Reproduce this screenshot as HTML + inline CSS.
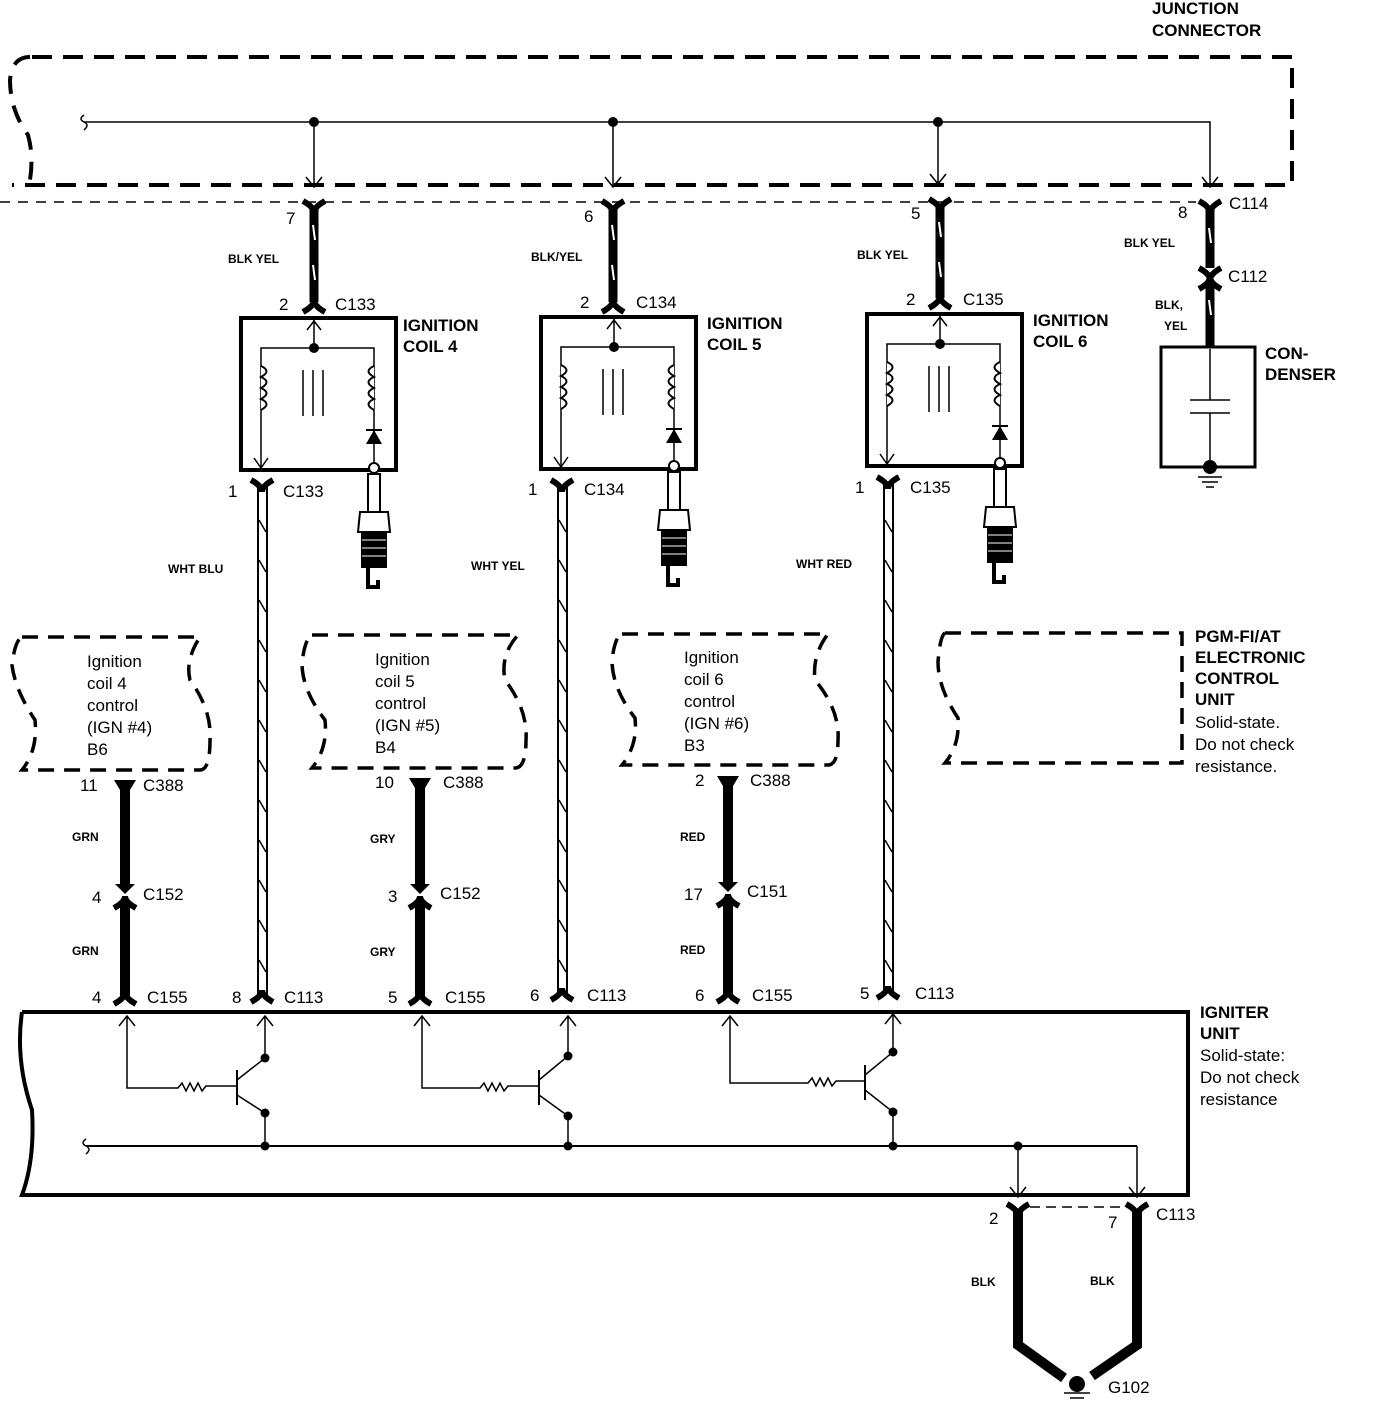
<!DOCTYPE html>
<html><head><meta charset="utf-8"><style>
html,body{margin:0;padding:0;background:#fff}
svg{display:block}
text{font-family:"Liberation Sans",sans-serif;fill:#000}
.b{font-weight:bold;font-size:17px}
.s{font-size:12px;font-weight:bold}
.n{font-size:17px}
</style></head><body>
<svg width="1376" height="1404" viewBox="0 0 1376 1404" xmlns="http://www.w3.org/2000/svg">
<defs>
<g id="coil" fill="none" stroke="#000">
  <rect x="0" y="0" width="155" height="152" stroke-width="4"/>
  <line x1="73" y1="2" x2="73" y2="30" stroke-width="1.5"/>
  <path d="M66 12 L73 3 L80 12" stroke-width="1.5"/>
  <circle cx="73" cy="30" r="4.5" fill="#000"/>
  <path d="M20 150 V30 H133 V150" stroke-width="1.5"/>
  <path d="M13 140 L20 150 L27 140" stroke-width="1.5"/>
  <path d="M20 48 q11 5 0 11 q11 5 0 11 q11 5 0 11 q11 5 0 11" stroke-width="2" fill="#fff"/>
  <path d="M133 48 q-11 5 0 11 q-11 5 0 11 q-11 5 0 11 q-11 5 0 11" stroke-width="2" fill="#fff"/>
  <line x1="62" y1="52" x2="62" y2="98" stroke-width="1.5"/>
  <line x1="72" y1="52" x2="72" y2="98" stroke-width="1.5"/>
  <line x1="82" y1="52" x2="82" y2="98" stroke-width="1.5"/>
  <path d="M125 126 L141 126 L133 112 Z" fill="#000" stroke="none"/>
  <line x1="125" y1="112" x2="141" y2="112" stroke-width="2"/>
</g>
<g id="plug" stroke="#000" fill="#fff" stroke-width="2">
  <circle cx="0" cy="6" r="5"/>
  <rect x="-6" y="12" width="12" height="38"/>
  <path d="M-14 50 H14 L16 70 H-16 Z"/>
  <rect x="-12" y="70" width="24" height="35" fill="#000"/>
  <line x1="-12" y1="78" x2="12" y2="78" stroke="#fff" stroke-width="1"/>
  <line x1="-12" y1="86" x2="12" y2="86" stroke="#fff" stroke-width="1"/>
  <line x1="-12" y1="94" x2="12" y2="94" stroke="#fff" stroke-width="1"/>
  <path d="M-6 105 V125 H4 V118" fill="none" stroke-width="4"/>
</g>
<g id="fork" fill="none" stroke="#000" stroke-width="6">
  <path d="M-11 -6 Q0 0 0 6 Q0 0 11 -6"/>
</g>
<g id="forkd" fill="none" stroke="#000" stroke-width="6">
  <path d="M-11 6 Q0 0 0 -6 Q0 0 11 6"/>
</g>
</defs>

<!-- Junction connector -->
<text class="b" x="1152" y="14">JUNCTION</text>
<text class="b" x="1152" y="36">CONNECTOR</text>
<path d="M30 57 Q12 57 10 80 Q10 110 28 135 Q35 160 28 190" fill="none" stroke="#000" stroke-width="4" stroke-dasharray="18 12"/>
<path d="M32 57 H1292 V185 H12" fill="none" stroke="#000" stroke-width="4" stroke-dasharray="20 11"/>
<line x1="0" y1="202" x2="1196" y2="202" stroke="#000" stroke-width="1.5" stroke-dasharray="10 8"/>
<path d="M84 115 q-6 4 0 7 q6 3 0 8" fill="none" stroke="#000" stroke-width="1.5"/>
<path d="M84 122 H1210 V186" fill="none" stroke="#000" stroke-width="1.5"/>
<g fill="none" stroke="#000" stroke-width="1.5">
<path d="M314 122 V186 M306 177 L314 187 L322 177"/>
<path d="M613 122 V186 M605 177 L613 187 L621 177"/>
<path d="M938 122 V183 M930 174 L938 184 L946 174"/>
<path d="M1202 177 L1210 187 L1218 177"/>
</g>
<circle cx="314" cy="122" r="5"/><circle cx="613" cy="122" r="5"/><circle cx="938" cy="122" r="5"/>

<!-- BLK/YEL wires -->
<g stroke="#000" stroke-width="9">
<line x1="314" y1="208" x2="314" y2="302"/>
<line x1="613" y1="208" x2="613" y2="302"/>
<line x1="940" y1="206" x2="940" y2="298"/>
<line x1="1210" y1="208" x2="1210" y2="268"/>
<line x1="1210" y1="282" x2="1210" y2="347"/>
</g>
<g stroke="#fff" stroke-width="2">
<line x1="313" y1="225" x2="315" y2="240"/><line x1="313" y1="265" x2="315" y2="280"/>
<line x1="612" y1="225" x2="614" y2="240"/><line x1="612" y1="265" x2="614" y2="280"/>
<line x1="939" y1="222" x2="941" y2="237"/><line x1="939" y1="262" x2="941" y2="277"/>
<line x1="1209" y1="228" x2="1211" y2="243"/><line x1="1209" y1="300" x2="1211" y2="315"/>
</g>
<use href="#fork" x="314" y="207"/><use href="#forkd" x="314" y="306"/>
<use href="#fork" x="613" y="207"/><use href="#forkd" x="613" y="306"/>
<use href="#fork" x="940" y="205"/><use href="#forkd" x="940" y="302"/>
<use href="#fork" x="1210" y="207"/><use href="#fork" x="1210" y="274"/><use href="#forkd" x="1210" y="283"/>

<text class="n" x="286" y="224">7</text><text class="s" x="228" y="263">BLK YEL</text>
<text class="n" x="279" y="310">2</text><text class="n" x="335" y="310">C133</text>
<text class="n" x="584" y="222">6</text><text class="s" x="531" y="261">BLK/YEL</text>
<text class="n" x="580" y="308">2</text><text class="n" x="636" y="308">C134</text>
<text class="n" x="911" y="219">5</text><text class="s" x="857" y="259">BLK YEL</text>
<text class="n" x="906" y="305">2</text><text class="n" x="963" y="305">C135</text>
<text class="n" x="1178" y="218">8</text><text class="n" x="1229" y="209">C114</text>
<text class="s" x="1124" y="247">BLK YEL</text>
<text class="n" x="1228" y="282">C112</text>
<text class="s" x="1155" y="309">BLK,</text><text class="s" x="1164" y="330">YEL</text>

<!-- coils -->
<use href="#coil" x="241" y="318"/>
<use href="#coil" x="541" y="317"/>
<use href="#coil" x="867" y="314"/>
<use href="#plug" x="374" y="462"/>
<use href="#plug" x="674" y="460"/>
<use href="#plug" x="1000" y="457"/>
<text class="b" x="403" y="331">IGNITION</text><text class="b" x="403" y="352">COIL 4</text>
<text class="b" x="707" y="329">IGNITION</text><text class="b" x="707" y="350">COIL 5</text>
<text class="b" x="1033" y="326">IGNITION</text><text class="b" x="1033" y="347">COIL 6</text>

<!-- condenser -->
<rect x="1161" y="347" width="94" height="120" fill="none" stroke="#000" stroke-width="3"/>
<path d="M1210 349 V400 M1190 400 H1230 M1190 413 H1230 M1210 413 V465" stroke="#000" stroke-width="1.5" fill="none"/>
<circle cx="1210" cy="467" r="7"/>
<path d="M1198 477 H1222 M1202 482 H1218 M1206 487 H1214" stroke="#000" stroke-width="1.5"/>
<text class="b" x="1265" y="359">CON-</text><text class="b" x="1265" y="380">DENSER</text>

<!-- white striped wires -->
<g fill="none" stroke="#000" stroke-width="2">
<path d="M258 485 V998 M267 485 V998"/>
<path d="M558 485 V996 M567 485 V996"/>
<path d="M884 482 V994 M893 482 V994"/>
</g>
<g fill="none" stroke="#000" stroke-width="1.5">
<path d="M259 520 l7 12 M259 560 l7 12 M259 600 l7 12 M259 640 l7 12 M259 680 l7 12 M259 720 l7 12 M259 760 l7 12 M259 800 l7 12 M259 840 l7 12 M259 880 l7 12 M259 920 l7 12 M259 960 l7 12"/>
<path d="M559 520 l7 12 M559 560 l7 12 M559 600 l7 12 M559 640 l7 12 M559 680 l7 12 M559 720 l7 12 M559 760 l7 12 M559 800 l7 12 M559 840 l7 12 M559 880 l7 12 M559 920 l7 12 M559 960 l7 12"/>
<path d="M885 520 l7 12 M885 560 l7 12 M885 600 l7 12 M885 640 l7 12 M885 680 l7 12 M885 720 l7 12 M885 760 l7 12 M885 800 l7 12 M885 840 l7 12 M885 880 l7 12 M885 920 l7 12 M885 960 l7 12"/>
</g>
<use href="#fork" x="262" y="486"/><use href="#fork" x="562" y="486"/><use href="#fork" x="888" y="483"/>
<use href="#forkd" x="262" y="996"/><use href="#forkd" x="562" y="994"/><use href="#forkd" x="888" y="992"/>
<text class="n" x="228" y="497">1</text><text class="n" x="283" y="497">C133</text>
<text class="n" x="528" y="495">1</text><text class="n" x="584" y="495">C134</text>
<text class="n" x="855" y="493">1</text><text class="n" x="910" y="493">C135</text>
<text class="s" x="168" y="573">WHT BLU</text>
<text class="s" x="471" y="570">WHT YEL</text>
<text class="s" x="796" y="568">WHT RED</text>

<!-- ECU dashed boxes -->
<g fill="none" stroke="#000" stroke-width="3.5" stroke-dasharray="16 10">
<path d="M22 637 H200 Q185 660 190 680 Q212 710 210 740 Q210 770 200 770 H22 Q38 750 35 720 Q15 690 12 665 Q15 640 22 637"/>
<path d="M312 635 H518 Q500 655 505 680 Q528 710 526 740 Q526 768 515 768 H312 Q328 748 325 720 Q302 690 302 663 Q305 638 312 635"/>
<path d="M622 634 H828 Q812 655 815 680 Q840 710 838 740 Q838 765 828 765 H622 Q638 745 635 718 Q612 688 612 660 Q615 636 622 634"/>
<path d="M945 633 H1182 V763 H945 Q960 745 958 718 Q938 688 938 662 Q940 636 945 633"/>
</g>
<g class="n" style="font-size:17px">
<text x="87" y="667">Ignition</text><text x="87" y="689">coil 4</text><text x="87" y="711">control</text><text x="87" y="733">(IGN #4)</text><text x="87" y="755">B6</text>
<text x="375" y="665">Ignition</text><text x="375" y="687">coil 5</text><text x="375" y="709">control</text><text x="375" y="731">(IGN #5)</text><text x="375" y="753">B4</text>
<text x="684" y="663">Ignition</text><text x="684" y="685">coil 6</text><text x="684" y="707">control</text><text x="684" y="729">(IGN #6)</text><text x="684" y="751">B3</text>
</g>
<text class="b" x="1195" y="642">PGM-FI/AT</text><text class="b" x="1195" y="663">ELECTRONIC</text>
<text class="b" x="1195" y="684">CONTROL</text><text class="b" x="1195" y="705">UNIT</text>
<text class="n" x="1195" y="728">Solid-state.</text><text class="n" x="1195" y="750">Do not check</text><text class="n" x="1195" y="772">resistance.</text>

<!-- control wires -->
<g stroke="#000" stroke-width="10">
<line x1="125" y1="784" x2="125" y2="886"/><line x1="125" y1="900" x2="125" y2="996"/>
<line x1="420" y1="782" x2="420" y2="886"/><line x1="420" y1="900" x2="420" y2="996"/>
<line x1="728" y1="780" x2="728" y2="884"/><line x1="728" y1="898" x2="728" y2="994"/>
</g>
<g fill="#000">
<path d="M114 780 L136 780 L130 790 L120 790 Z"/><path d="M409 778 L431 778 L425 788 L415 788 Z"/><path d="M717 776 L739 776 L733 786 L723 786 Z"/>
<path d="M115 884 L135 884 L125 894 Z"/><path d="M410 884 L430 884 L420 894 Z"/><path d="M718 882 L738 882 L728 892 Z"/>
</g>
<use href="#forkd" x="125" y="902"/><use href="#forkd" x="420" y="902"/><use href="#forkd" x="728" y="900"/>
<use href="#forkd" x="125" y="998"/><use href="#forkd" x="420" y="998"/><use href="#forkd" x="728" y="996"/>
<text class="n" x="80" y="791">11</text><text class="n" x="143" y="791">C388</text>
<text class="n" x="375" y="788">10</text><text class="n" x="443" y="788">C388</text>
<text class="n" x="695" y="786">2</text><text class="n" x="750" y="786">C388</text>
<text class="s" x="72" y="841">GRN</text><text class="s" x="370" y="843">GRY</text><text class="s" x="680" y="841">RED</text>
<text class="n" x="92" y="903">4</text><text class="n" x="143" y="900">C152</text>
<text class="n" x="388" y="902">3</text><text class="n" x="440" y="899">C152</text>
<text class="n" x="684" y="900">17</text><text class="n" x="747" y="897">C151</text>
<text class="s" x="72" y="955">GRN</text><text class="s" x="370" y="956">GRY</text><text class="s" x="680" y="954">RED</text>
<text class="n" x="92" y="1003">4</text><text class="n" x="147" y="1003">C155</text>
<text class="n" x="232" y="1003">8</text><text class="n" x="284" y="1003">C113</text>
<text class="n" x="388" y="1003">5</text><text class="n" x="445" y="1003">C155</text>
<text class="n" x="530" y="1001">6</text><text class="n" x="587" y="1001">C113</text>
<text class="n" x="695" y="1001">6</text><text class="n" x="752" y="1001">C155</text>
<text class="n" x="860" y="999">5</text><text class="n" x="915" y="999">C113</text>

<!-- igniter unit -->
<path d="M22 1012 H1188 V1195 H22 Q35 1160 32 1110 Q15 1060 22 1012" fill="none" stroke="#000" stroke-width="4"/>
<text class="b" x="1200" y="1018">IGNITER</text><text class="b" x="1200" y="1039">UNIT</text>
<text class="n" x="1200" y="1061">Solid-state:</text><text class="n" x="1200" y="1083">Do not check</text><text class="n" x="1200" y="1105">resistance</text>
<g fill="none" stroke="#000" stroke-width="1.5">
<path d="M86 1139 q-6 4 0 7 q6 3 0 8"/>
<line x1="86" y1="1146" x2="1137" y2="1146" stroke-width="2"/>
<path d="M1018 1146 V1196 M1010 1187 L1018 1197 L1026 1187"/>
<path d="M1137 1146 V1196 M1129 1187 L1137 1197 L1145 1187"/>
<path d="M127 1016 V1088 H178 l4 -5 l4 8 l4 -8 l4 8 l4 -8 l4 8 l4 -5 H237"/>
<path d="M119 1026 L127 1016 L135 1026"/>
<path d="M237 1070 V1105" stroke-width="2"/>
<path d="M237 1080 L265 1058 V1016 M257 1026 L265 1016 L273 1026"/>
<path d="M237 1095 L265 1113 V1146"/>
<path d="M422 1016 V1088 H480 l4 -5 l4 8 l4 -8 l4 8 l4 -8 l4 8 l4 -5 H539"/>
<path d="M414 1026 L422 1016 L430 1026"/>
<path d="M539 1070 V1105" stroke-width="2"/>
<path d="M539 1080 L568 1056 V1016 M560 1026 L568 1016 L576 1026"/>
<path d="M539 1095 L568 1116 V1146"/>
<path d="M730 1016 V1083 H808 l4 -5 l4 8 l4 -8 l4 8 l4 -8 l4 8 l4 -5 H865"/>
<path d="M722 1026 L730 1016 L738 1026"/>
<path d="M865 1065 V1100" stroke-width="2"/>
<path d="M865 1075 L893 1052 V1014 M885 1024 L893 1014 L901 1024"/>
<path d="M865 1090 L893 1112 V1146"/>
</g>
<g fill="#000">
<circle cx="265" cy="1058" r="4.5"/><circle cx="265" cy="1113" r="4.5"/><circle cx="265" cy="1146" r="4.5"/>
<circle cx="568" cy="1056" r="4.5"/><circle cx="568" cy="1116" r="4.5"/><circle cx="568" cy="1146" r="4.5"/>
<circle cx="893" cy="1052" r="4.5"/><circle cx="893" cy="1112" r="4.5"/><circle cx="893" cy="1146" r="4.5"/>
<circle cx="1018" cy="1146" r="4.5"/>
</g>

<!-- ground wires -->
<line x1="1030" y1="1207" x2="1125" y2="1207" stroke="#000" stroke-width="1.5" stroke-dasharray="10 6"/>
<path d="M1018 1210 V1345 L1064 1378 M1137 1210 V1345 L1092 1376" fill="none" stroke="#000" stroke-width="10"/>
<use href="#fork" x="1018" y="1210"/><use href="#fork" x="1137" y="1210"/>
<circle cx="1077" cy="1384" r="8"/>
<path d="M1064 1393 H1090 M1070 1398 H1084" stroke="#000" stroke-width="1.5"/>
<text class="n" x="989" y="1224">2</text><text class="n" x="1108" y="1228">7</text><text class="n" x="1156" y="1220">C113</text>
<text class="s" x="971" y="1286">BLK</text><text class="s" x="1090" y="1285">BLK</text>
<text class="n" x="1108" y="1393">G102</text>
</svg>
</body></html>
